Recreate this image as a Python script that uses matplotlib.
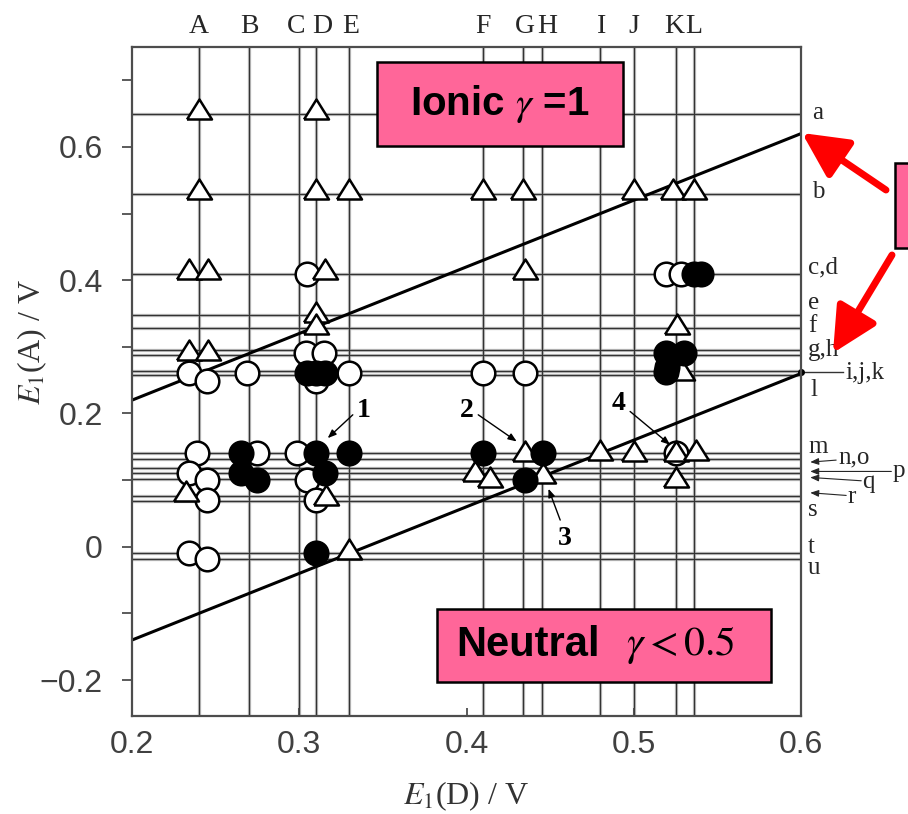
import numpy as np
import matplotlib
matplotlib.use('Agg')
from matplotlib import pyplot as plt
from matplotlib.patches import Rectangle

plt.rcParams['font.family'] = ['Liberation Sans', 'DejaVu Sans']
plt.rcParams['mathtext.fontset'] = 'stix'
SERIF = ['Liberation Serif', 'DejaVu Serif']

# donors (vertical lines) and acceptors (horizontal lines)
donor_names = list('ABCDEFGHIJKL')
donor_e1 = [0.24, 0.27, 0.30, 0.31, 0.33, 0.41, 0.434, 0.445, 0.48, 0.50, 0.525, 0.536]
acceptor_e1 = [0.65, 0.53, 0.41, 0.348, 0.329, 0.295, 0.288, 0.263, 0.257,
               0.14, 0.131, 0.118, 0.111, 0.102, 0.076, 0.068, -0.009, -0.019]
acceptor_labels = ['a', 'b', 'c,d', 'e', 'f', 'g,h', 'i,j,k', 'l', 'm', 'n,o',
                   'p', 'q', 'r', 's', 't', 'u']

# boundary lines E1(A) = E1(D) + c
bound_x = [0.2, 0.6]
upper_c = 0.02
lower_c = -0.34

# complexes
open_x = [0.3045, 0.304, 0.315, 0.234, 0.245, 0.269, 0.33, 0.31, 0.41, 0.435,
          0.519, 0.528, 0.239, 0.234, 0.245, 0.245, 0.275, 0.2985, 0.3045, 0.31,
          0.234, 0.245, 0.525]
open_y = [0.41, 0.29, 0.29, 0.26, 0.248, 0.26, 0.26, 0.248, 0.26, 0.26,
          0.41, 0.41, 0.14, 0.11, 0.10, 0.07, 0.14, 0.14, 0.10, 0.07,
          -0.01, -0.018, 0.14]
filled_x = [0.536, 0.54, 0.519, 0.53, 0.519, 0.52, 0.3045, 0.31, 0.3155,
            0.265, 0.265, 0.275, 0.31, 0.3155, 0.33, 0.31, 0.41, 0.446, 0.435]
filled_y = [0.41, 0.41, 0.29, 0.29, 0.262, 0.27, 0.26, 0.26, 0.26,
            0.14, 0.11, 0.10, 0.14, 0.11, 0.14, -0.01, 0.14, 0.14, 0.10]
tri_x = [0.24, 0.31, 0.24, 0.31, 0.33, 0.41, 0.434, 0.50, 0.5235, 0.536,
         0.234, 0.2456, 0.3154, 0.435, 0.31, 0.31, 0.5257, 0.234, 0.2456, 0.529,
         0.232, 0.316, 0.33, 0.405, 0.414, 0.435, 0.446, 0.48, 0.50, 0.525,
         0.537, 0.525]
tri_y = [0.657, 0.657, 0.537, 0.537, 0.537, 0.537, 0.537, 0.537, 0.537, 0.537,
         0.417, 0.417, 0.417, 0.417, 0.353, 0.335, 0.335, 0.295, 0.295, 0.265,
         0.083, 0.078, -0.003, 0.113, 0.105, 0.143, 0.11, 0.145, 0.143, 0.143,
         0.145, 0.105]

fig = plt.figure(figsize=(9.08, 8.14), dpi=100)
ax = fig.add_axes([0.1454, 0.1204, 0.7368, 0.8219])
ax.set_xlim(0.2, 0.6)
ax.set_ylim(-0.254, 0.75)

for x in donor_e1:
    ax.axvline(x, color='0.8', lw=2.4, zorder=1)
    ax.axvline(x, color='0.2', lw=1.0, zorder=1.1)
for y in acceptor_e1:
    ax.axhline(y, color='0.8', lw=2.4, zorder=1)
    ax.axhline(y, color='0.2', lw=1.0, zorder=1.1)

bx = np.array(bound_x)
ax.plot(bx, bx + upper_c, color='black', lw=2.2, zorder=2)
ax.plot(bx, bx + lower_c, color='black', lw=2.2, zorder=2)

tri = [(-1, -0.8), (1, -0.8), (0, 0.8), (-1, -0.8)]
ax.plot(open_x, open_y, 'o', ms=17, mfc='white', mec='black', mew=1.8, ls='none', zorder=3)
ax.plot(tri_x, tri_y, marker=tri, ms=18, mfc='white', mec='black', mew=1.8, ls='none', zorder=4)
ax.plot(filled_x, filled_y, 'o', ms=17, mfc='black', mec='black', mew=1.8, ls='none', zorder=5)

# top labels
trans_top = ax.get_xaxis_transform()
top_off = [0, 0, -0.002, 0.004, 0.001, 0, 0.001, 0.003, 0.001, 0, -0.001, 0]
for x, o, n in zip(donor_e1, top_off, donor_names):
    ax.text(x + o, 1.03, n, transform=trans_top, ha='center', va='center',
            family=SERIF, fontsize=20, color='0.15')

# right labels
lab_x = [0.6066, 0.6066, 0.6042, 0.6042, 0.6042, 0.6042, 0.6263, 0.6054, 0.6042,
         0.6221, 0.655, 0.6365, 0.628, 0.6042, 0.6042, 0.6042]
lab_y = [0.651, 0.5325, 0.4185, 0.366, 0.3315, 0.2955, 0.261, 0.2355, 0.15,
         0.1335, 0.114, 0.0975, 0.075, 0.0555, 0.0, -0.0315]
for x, y, t in zip(lab_x, lab_y, acceptor_labels):
    ax.text(x, y, t, ha='left', va='center', family=SERIF, fontsize=18,
            color='0.15', clip_on=False)
ax.plot([0.6, 0.625], [0.262, 0.262], color='0.2', lw=1, clip_on=False)
ax.plot([0.6], [0.262], 'o', ms=4, color='black', clip_on=False)
for x0, y0, y1 in [(0.621, 0.130, 0.127), (0.654, 0.113, 0.113),
                   (0.636, 0.099, 0.104), (0.627, 0.077, 0.081)]:
    ax.annotate('', xy=(0.6055, y1), xytext=(x0, y0), annotation_clip=False,
                arrowprops=dict(arrowstyle='-|>,head_length=0.5,head_width=0.2',
                                lw=0.8, color='0.15', shrinkA=0, shrinkB=0))

# numbered marks
num_txt = ['1', '2', '3', '4']
num_pos = [(0.3385, 0.205), (0.40, 0.205), (0.459, 0.012), (0.491, 0.215)]
num_tail = [(0.332, 0.198), (0.407, 0.198), (0.456, 0.04), (0.4978, 0.203)]
num_head = [(0.317, 0.163), (0.43, 0.158), (0.449, 0.087), (0.5217, 0.153)]
for t, p, a, b in zip(num_txt, num_pos, num_tail, num_head):
    ax.text(p[0], p[1], t, ha='center', va='center', family=SERIF,
            fontweight='bold', fontsize=20, zorder=7)
    ax.annotate('', xy=b, xytext=a, zorder=7,
                arrowprops=dict(arrowstyle='-|>,head_length=0.5,head_width=0.2',
                                lw=1.0, color='black', shrinkA=0, shrinkB=0))

# pink boxes
pink = '#FF6699'
ax.add_patch(Rectangle((0.3465, 0.6015), 0.1471, 0.126, fc=pink, ec='black',
                       lw=1.8, zorder=8))
ax.text(0.42, 0.664, r'Ionic $\gamma$ =1', ha='center', va='center',
        fontsize=29, fontweight='bold', zorder=9)
ax.add_patch(Rectangle((0.3824, -0.2025), 0.1997, 0.1095, fc=pink, ec='black',
                       lw=1.8, zorder=8))
ax.text(0.3937, -0.147, 'Neutral', ha='left', va='center', fontsize=30,
        fontweight='bold', zorder=9)
ax.text(0.4954, -0.147, r'$\gamma < 0.5$', ha='left', va='center', fontsize=30,
        zorder=9)
fig.patches.append(Rectangle((895 / 908, 566 / 814), 0.1, 85 / 814, fc=pink,
                             ec='black', lw=1.8, transform=fig.transFigure,
                             figure=fig))

# red arrows
for tail, head in [((886, 624), (802, 681)), ((892, 559), (833, 461))]:
    ax.annotate('', xy=head, xycoords='figure pixels', xytext=tail,
                textcoords='figure pixels', zorder=10,
                arrowprops=dict(arrowstyle='-|>,head_length=1.1,head_width=0.55',
                                mutation_scale=25, lw=5, color='red',
                                shrinkA=0, shrinkB=0))

# axes
x_ticks = [0.2, 0.3, 0.4, 0.5, 0.6]
x_tick_labels = ['0.2', '0.3', '0.4', '0.5', '0.6']
y_ticks = [-0.2, 0, 0.2, 0.4, 0.6]
y_tick_labels = ['\u22120.2', '0', '0.2', '0.4', '0.6']
ax.set_xticks(x_ticks, x_tick_labels)
ax.set_yticks(y_ticks, y_tick_labels)
ax.set_yticks([-0.1, 0.1, 0.3, 0.5, 0.7], minor=True)
ax.tick_params(axis='y', which='both', direction='out', length=7, width=1.2,
               labelsize=23, pad=14, colors='0.25')
ax.tick_params(axis='x', direction='in', length=6, width=1.2, labelsize=23,
               pad=10, colors='0.25')
for s in ax.spines.values():
    s.set_linewidth(1.6)
    s.set_color('0.3')

ax.set_xlabel(r'$E_1$(D) / V', family=SERIF, fontsize=23, color='0.2')
ax.set_ylabel(r'$E_1$(A) / V', family=SERIF, fontsize=23, color='0.2')
ax.xaxis.set_label_coords(0.5, -0.095)
ax.yaxis.set_label_coords(-0.124, 0.559)

plt.savefig('out.png', dpi=100)
